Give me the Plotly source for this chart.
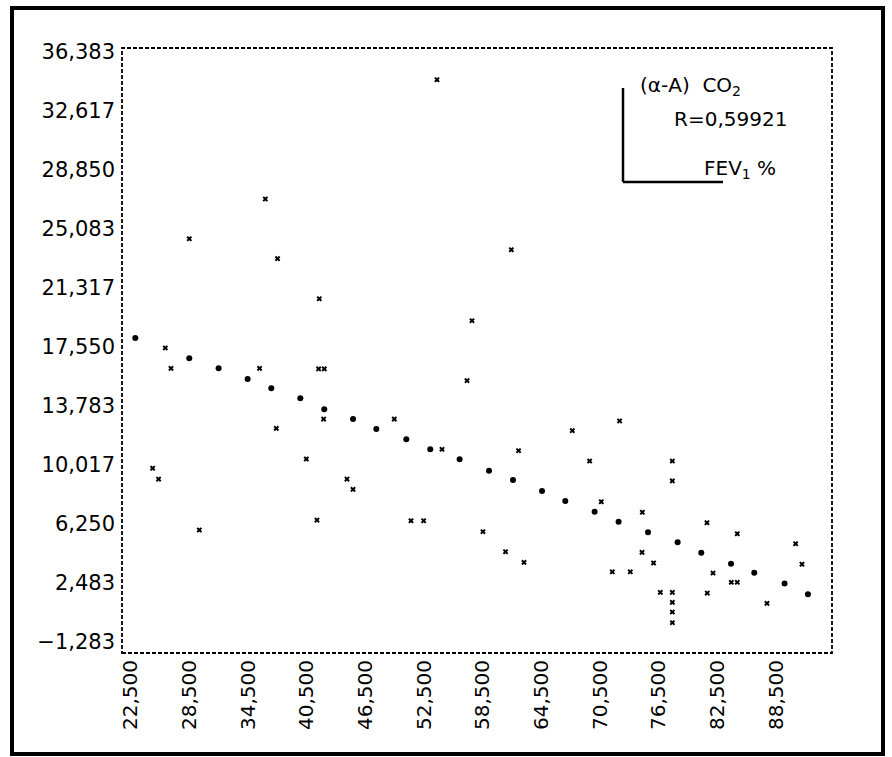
import plotly.graph_objects as go

# ---- data ----
fit_x = [22.94, 28.46, 31.46, 34.43, 36.85, 39.82, 42.27, 45.21, 47.59, 50.66,
         53.11, 56.11, 59.12, 61.57, 64.54, 66.92, 69.92, 72.37, 75.38, 78.41,
         80.83, 83.87, 86.25, 89.35, 91.74]
fit_y = [18.10, 16.81, 16.17, 15.49, 14.89, 14.26, 13.55, 12.93, 12.29, 11.64,
         11.00, 10.36, 9.63, 9.04, 8.34, 7.70, 7.02, 6.38, 5.70, 5.06,
         4.40, 3.70, 3.12, 2.44, 1.74]

obs_x = [53.80, 36.24, 28.46, 37.49, 41.76, 57.38, 61.40, 26.01, 26.59, 35.65,
         41.69, 42.27, 56.87, 42.20, 49.43, 37.36, 54.31, 40.43, 24.71, 25.32,
         44.59, 45.21, 41.52, 51.14, 52.43, 29.49,
         72.47, 67.64, 62.14, 69.41, 77.87, 77.87, 70.60, 74.80, 81.41, 58.50,
         84.51, 90.48, 60.81, 74.77, 62.70, 75.95, 91.13, 71.73, 73.57, 82.03,
         83.90, 84.51, 76.64, 77.87, 81.44, 77.87, 87.55, 77.87, 77.87]
obs_y = [34.59, 26.98, 24.44, 23.17, 20.61, 19.21, 23.74, 17.47, 16.17, 16.17,
         16.13, 16.13, 15.38, 12.93, 12.93, 12.34, 11.00, 10.38, 9.79, 9.10,
         9.10, 8.44, 6.48, 6.44, 6.44, 5.85,
         12.81, 12.19, 10.91, 10.25, 10.25, 8.98, 7.65, 6.98, 6.31, 5.74,
         5.61, 4.97, 4.46, 4.42, 3.78, 3.74, 3.66, 3.18, 3.18, 3.10,
         2.51, 2.51, 1.87, 1.87, 1.82, 1.23, 1.16, 0.61, -0.07]

y_tick_vals = [36.383, 32.617, 28.850, 25.083, 21.317, 17.550, 13.783, 10.017, 6.250, 2.483, -1.283]
y_tick_text = ["36,383", "32,617", "28,850", "25,083", "21,317", "17,550", "13,783",
               "10,017", "6,250", "2,483", "\u22121,283"]
x_tick_vals = [22.5, 28.5, 34.5, 40.5, 46.5, 52.5, 58.5, 64.5, 70.5, 76.5, 82.5, 88.5]
x_tick_text = ["22,500", "28,500", "34,500", "40,500", "46,500", "52,500", "58,500",
               "64,500", "70,500", "76,500", "82,500", "88,500"]

# ---- layout geometry ----
W, H = 892, 757
ML, MR, MT, MB = 122, 60, 48, 104
PW, PH = W - ML - MR, H - MT - MB


def px(xp):
    return (xp - ML) / PW


def py(yp):
    return (H - MB - yp) / PH


FONT = "DejaVu Sans"

fig = go.Figure()
fig.add_trace(go.Scatter(x=obs_x, y=obs_y, mode="markers",
                         marker=dict(symbol="x", size=5, color="black",
                                     line=dict(width=0)),
                         showlegend=False, cliponaxis=False))
fig.add_trace(go.Scatter(x=fit_x, y=fit_y, mode="markers",
                         marker=dict(symbol="circle", size=6, color="black"),
                         showlegend=False, cliponaxis=False))

shapes = [
    # dashed plot frame
    dict(type="rect", xref="paper", yref="paper", x0=0, x1=1, y0=0, y1=1,
         line=dict(color="black", width=1.8, dash="4px,2px")),
    # thick outer frame
    dict(type="rect", xref="paper", yref="paper", x0=px(12), x1=px(883),
         y0=py(754), y1=py(8), line=dict(color="black", width=4)),
    # legend corner lines
    dict(type="line", xref="paper", yref="paper", x0=px(623), x1=px(623),
         y0=py(88), y1=py(182), line=dict(color="black", width=2.5)),
    dict(type="line", xref="paper", yref="paper", x0=px(623), x1=px(723),
         y0=py(182), y1=py(182), line=dict(color="black", width=2.5)),
]

annotations = [
    dict(text="(\u03b1-A)  CO<sub>2</sub>", xref="paper", yref="paper",
         x=px(638), y=py(86), xanchor="left", yanchor="middle", showarrow=False,
         font=dict(family=FONT, size=20, color="black")),
    dict(text="R=0,59921", xref="paper", yref="paper",
         x=px(672), y=py(119), xanchor="left", yanchor="middle", showarrow=False,
         font=dict(family=FONT, size=20, color="black")),
    dict(text="FEV<sub>1</sub> %", xref="paper", yref="paper",
         x=px(702), y=py(169), xanchor="left", yanchor="middle", showarrow=False,
         font=dict(family=FONT, size=20, color="black")),
]

fig.update_layout(
    width=W, height=H,
    margin=dict(l=ML, r=MR, t=MT, b=MB, pad=0),
    paper_bgcolor="white", plot_bgcolor="white",
    font=dict(family=FONT, size=20, color="black"),
    shapes=shapes, annotations=annotations,
    xaxis=dict(range=[21.58, 94.20], tickmode="array", tickvals=x_tick_vals,
               ticktext=x_tick_text, tickangle=-90, showgrid=False, zeroline=False,
               showline=False, ticks="", ticklabelstandoff=2,
               tickfont=dict(family=FONT, size=20, color="black")),
    yaxis=dict(range=[-2.004, 36.619], tickmode="array", tickvals=y_tick_vals,
               ticktext=y_tick_text, showgrid=False, zeroline=False,
               showline=False, ticks="", ticklabelstandoff=6,
               tickfont=dict(family=FONT, size=21, color="black")),
)

fig.write_html("out.html")
